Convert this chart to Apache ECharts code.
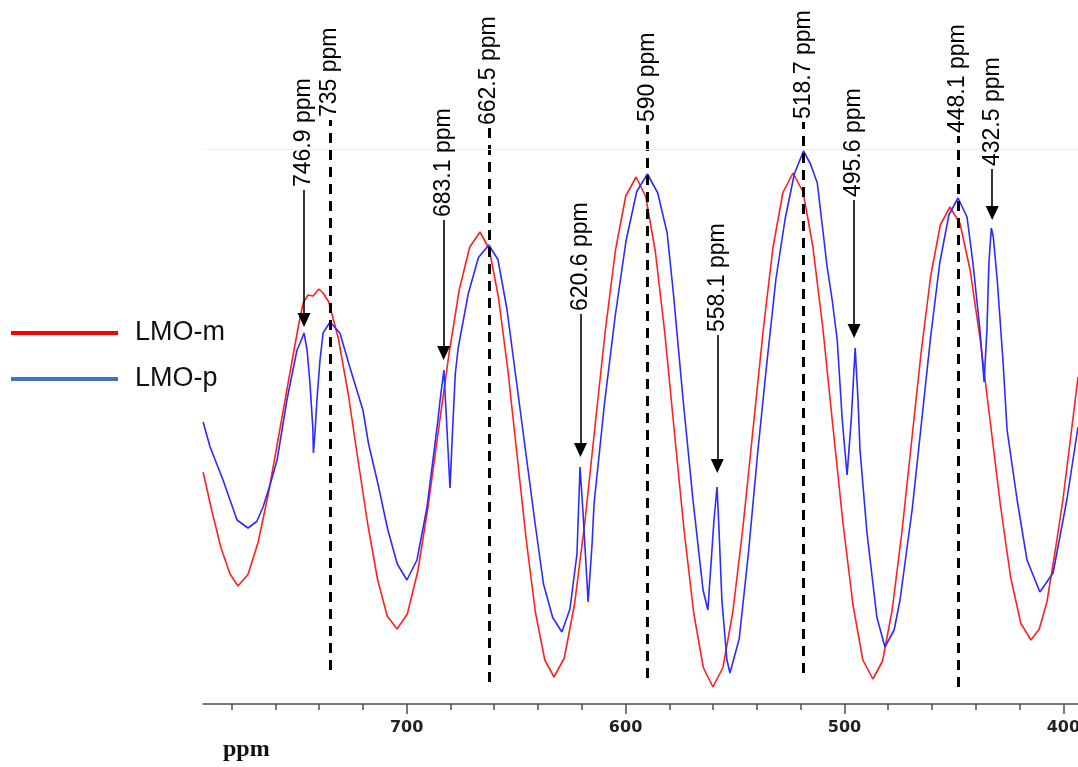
<!DOCTYPE html>
<html>
<head>
<meta charset="utf-8">
<title>LMO 7Li NMR spectra</title>
<script src="https://cdn.jsdelivr.net/npm/echarts@6/dist/echarts.min.js"></script>
<style>
  html, body { margin: 0; padding: 0; background: #ffffff; }
  #chart { width: 1078px; height: 767px; }
</style>
</head>
<body>
<div id="chart"></div>
<script>
// ---- spectra (chemical shift in ppm, intensity in arbitrary units) ----
const lmoM_ppm = [793.0, 788.9, 784.8, 780.7, 777.1, 772.5, 767.9, 763.2, 758.6, 754.0, 749.3, 747.3, 745.1, 742.8, 740.1, 738.2,
  735.6, 731.2, 726.7, 722.3, 717.8, 713.3, 708.9, 704.4, 699.7, 694.9, 690.2, 685.5, 680.7, 676.0, 671.2, 666.5,
  662.3, 658.1, 653.8, 649.6, 645.4, 641.2, 636.9, 632.7, 628.0, 623.3, 618.6, 614.0, 609.3, 604.6, 599.9, 595.2,
  590.8, 586.4, 582.0, 577.7, 573.3, 568.9, 564.5, 560.1, 555.5, 551.0, 546.4, 541.8, 537.2, 532.7, 528.1, 523.5,
  518.9, 514.4, 509.8, 505.3, 500.7, 496.1, 491.6, 487.0, 482.6, 478.2, 473.8, 469.4, 465.0, 460.6, 456.2, 451.8,
  447.2, 442.6, 437.9, 433.3, 428.7, 424.1, 419.4, 414.8, 411.0, 407.5, 403.8, 400.2, 396.8, 393.3];
const lmoM_int = [46.4, 38.4, 31.2, 26.0, 23.6, 25.9, 32.3, 42.0, 53.3, 64.6, 76.0, 80.2, 81.8, 81.6, 83.0, 82.2,
  80.4, 73.1, 62.0, 49.0, 36.0, 24.9, 17.6, 15.0, 18.0, 26.6, 39.5, 54.7, 69.9, 82.8, 91.4, 94.4,
  91.0, 81.4, 66.9, 49.9, 32.9, 18.4, 8.8, 5.4, 9.2, 20.0, 36.3, 55.4, 74.5, 90.8, 101.6, 105.4,
  101.5, 90.5, 73.9, 54.4, 34.9, 18.3, 7.3, 3.4, 7.3, 18.4, 35.2, 54.8, 74.4, 91.2, 102.3, 106.2,
  102.4, 91.4, 74.9, 55.6, 36.3, 19.8, 8.8, 5.0, 8.6, 18.8, 34.2, 52.2, 70.2, 85.6, 95.8, 99.4,
  96.1, 86.8, 72.6, 56.1, 39.6, 25.4, 16.1, 12.8, 15.0, 20.4, 30.4, 40.8, 52.8, 65.4];

const lmoP_ppm = [793.0, 789.8, 783.9, 777.5, 772.5, 768.5, 765.6, 762.3, 759.2, 754.7, 750.1, 748.7, 746.9, 745.5, 744.2, 742.9,
  742.6, 741.9, 741.0, 739.6, 738.2, 735.0, 730.5, 726.0, 720.0, 717.4, 713.1, 708.7, 704.3, 699.9, 695.3, 690.7,
  688.0, 685.8, 684.8, 683.0, 681.6, 680.2, 679.0, 677.8, 676.5, 671.9, 667.2, 662.5, 658.3, 654.2, 650.0, 645.8,
  641.6, 637.5, 633.3, 629.1, 625.4, 622.2, 620.8, 619.4, 617.1, 615.3, 614.4, 609.6, 604.7, 599.8, 594.9, 590.0,
  585.3, 581.0, 578.3, 573.7, 569.2, 564.6, 562.4, 559.6, 558.2, 557.3, 556.0, 553.7, 552.3, 548.1, 543.9, 539.7,
  535.5, 531.3, 527.1, 522.9, 518.7, 515.5, 512.4, 507.9, 505.6, 503.3, 501.0, 498.8, 496.9, 495.1, 493.8, 492.9,
  489.7, 485.2, 481.5, 477.3, 474.6, 469.0, 464.8, 460.6, 456.5, 452.3, 448.1, 444.0, 441.3, 438.1, 436.2, 434.9,
  434.0, 432.9, 432.0, 430.2, 428.8, 427.5, 425.7, 421.1, 416.6, 410.7, 404.7, 398.4, 393.3];
const lmoP_int = [56.4, 51.4, 44.8, 36.8, 35.2, 36.5, 39.4, 44.0, 48.8, 60.8, 70.8, 72.2, 74.2, 70.8, 64.2, 55.4,
  50.2, 54.2, 60.8, 68.8, 74.2, 76.4, 74.2, 67.4, 58.8, 52.0, 44.0, 35.0, 28.0, 24.8, 28.8, 39.4,
  48.8, 56.5, 60.5, 66.8, 55.0, 43.2, 55.0, 66.0, 71.1, 82.0, 89.3, 91.8, 88.9, 79.0, 65.0, 51.0,
  37.0, 24.0, 17.3, 14.4, 19.0, 30.0, 47.4, 38.0, 20.4, 32.0, 40.0, 60.2, 77.7, 92.6, 102.5, 106.0,
  102.2, 94.2, 82.8, 60.8, 40.8, 22.8, 18.8, 36.8, 43.4, 34.8, 20.8, 8.8, 6.2, 13.0, 30.0, 50.0,
  68.0, 85.0, 97.0, 106.0, 110.6, 108.0, 104.2, 87.4, 80.8, 72.8, 56.8, 45.8, 56.8, 71.2, 60.8, 50.8,
  34.2, 17.4, 11.4, 14.8, 20.8, 39.1, 56.3, 73.5, 88.1, 97.8, 101.2, 97.4, 88.2, 74.8, 64.4, 74.8,
  88.2, 95.2, 93.4, 84.8, 76.2, 68.2, 54.8, 40.8, 28.8, 22.4, 26.2, 40.8, 55.4];

// ---- axis ----
const majorTicks = [700, 600, 500, 400];
const minorTicks = [780, 760, 740, 720, 700, 680, 660, 640, 620, 600, 580, 560, 540, 520, 500, 480, 460, 440, 420, 400];

// ---- annotations ----
// dashed lines marking the LMO-p sideband centres
const centreLinePpm = [735, 662.5, 590, 518.7, 448.1];
const centreLineTop = [116.8, 115.2, 115.8, 116.4, 113.6];
const centreLineBottom = [6.8, 4.4, 5.2, 6.2, 3.4];
// arrows pointing at the narrow extra resonances
const arrowPpm = [746.9, 683.1, 620.6, 558.1, 495.6, 432.5];
const arrowTop = [102.8, 96.8, 78.0, 73.8, 100.8, 107.0];
const arrowHead = [76.8, 70.2, 50.8, 47.6, 74.6, 98.2];
const frameTop = 111;

const X_MIN = 393.3, X_MAX = 793.05, Y_MAX = 140.8;

const zip = (xs, ys) => xs.map((x, i) => [x, ys[i]]);
const ppmText = v => v + ' ppm';

const markLines = [];
centreLinePpm.forEach((p, i) => {
  markLines.push([
    { coord: [p, centreLineBottom[i]], symbol: 'none',
      lineStyle: { color: '#000', width: 3, type: [10, 7] } },
    { coord: [p, centreLineTop[i]], symbol: 'none' }
  ]);
});
arrowPpm.forEach((p, i) => {
  markLines.push([
    { coord: [p, arrowTop[i]], symbol: 'none',
      lineStyle: { color: '#000', width: 1.6, type: 'solid' } },
    { coord: [p, arrowHead[i]], symbol: 'triangle', symbolSize: [13, 14] }
  ]);
});
markLines.push({ yAxis: frameTop, symbol: 'none', lineStyle: { color: '#efefef', width: 1, type: 'solid' } });

const labelPoints = centreLinePpm.map((p, i) => [p, centreLineTop[i], ppmText(p)])
  .concat(arrowPpm.map((p, i) => [p, arrowTop[i], ppmText(p)]));

const chart = echarts.init(document.getElementById('chart'), null, { renderer: 'canvas' });
chart.setOption({
  animation: false,
  backgroundColor: '#ffffff',
  title: {
    text: 'ppm', left: 218, top: 733,
    textStyle: { fontFamily: 'Liberation Serif', fontWeight: 'bold', fontSize: 24, color: '#111' }
  },
  legend: {
    orient: 'vertical', left: 6, top: 313,
    icon: 'rect', itemWidth: 107, itemHeight: 4, itemGap: 16,
    textStyle: { fontFamily: 'Liberation Sans', fontSize: 27, color: '#111', lineHeight: 30, padding: [0, 0, 0, 12] },
    data: [
      { name: 'LMO-m', itemStyle: { color: '#ff0000' } },
      { name: 'LMO-p', itemStyle: { color: '#4472c4' } }
    ]
  },
  grid: { left: 203, right: 0, top: 0, bottom: 63, containLabel: false, outerBoundsMode: 'none' },
  xAxis: [
    {
      type: 'value', position: 'bottom', min: X_MIN, max: X_MAX, inverse: true,
      axisLine: { show: true, lineStyle: { color: '#4d4d4d', width: 1.5 } },
      axisTick: { show: true, customValues: majorTicks, length: 10, lineStyle: { color: '#4d4d4d', width: 1.5 } },
      axisLabel: { customValues: majorTicks, margin: 16, fontFamily: 'DejaVu Sans', fontWeight: 'bold', fontSize: 16, color: '#222' },
      splitLine: { show: false }
    },
    {
      type: 'value', position: 'bottom', min: X_MIN, max: X_MAX, inverse: true,
      axisLine: { show: false },
      axisTick: { show: true, customValues: minorTicks, length: 6, lineStyle: { color: '#4d4d4d', width: 1.5 } },
      axisLabel: { show: false },
      splitLine: { show: false }
    }
  ],
  yAxis: { type: 'value', min: 0, max: Y_MAX, show: false, splitLine: { show: false } },
  series: [
    {
      name: 'LMO-m', type: 'line', data: zip(lmoM_ppm, lmoM_int), symbol: 'none',
      color: '#ff2020', lineStyle: { color: '#ff2020', width: 1.6 }, z: 2
    },
    {
      name: 'LMO-p', type: 'line', data: zip(lmoP_ppm, lmoP_int), symbol: 'none',
      color: '#2b2bff', lineStyle: { color: '#2b2bff', width: 1.6 }, z: 3
    },
    {
      name: 'annotations', type: 'line', data: [], clip: false, z: 5,
      markLine: { silent: true, animation: false, symbol: ['none', 'none'], label: { show: false }, data: markLines,
        itemStyle: { color: '#000' } }
    },
    {
      name: 'labels', type: 'scatter', data: labelPoints, symbolSize: 0, clip: false, z: 6, silent: true,
      itemStyle: { opacity: 1 },
      label: {
        show: true, position: 'inside', rotate: 90, align: 'left', verticalAlign: 'middle',
        padding: [0, 0, 0, 3],
        formatter: p => p.data[2],
        fontFamily: 'Liberation Sans', fontSize: 23, color: '#000', textBorderWidth: 0
      }
    }
  ]
});
</script>
</body>
</html>
